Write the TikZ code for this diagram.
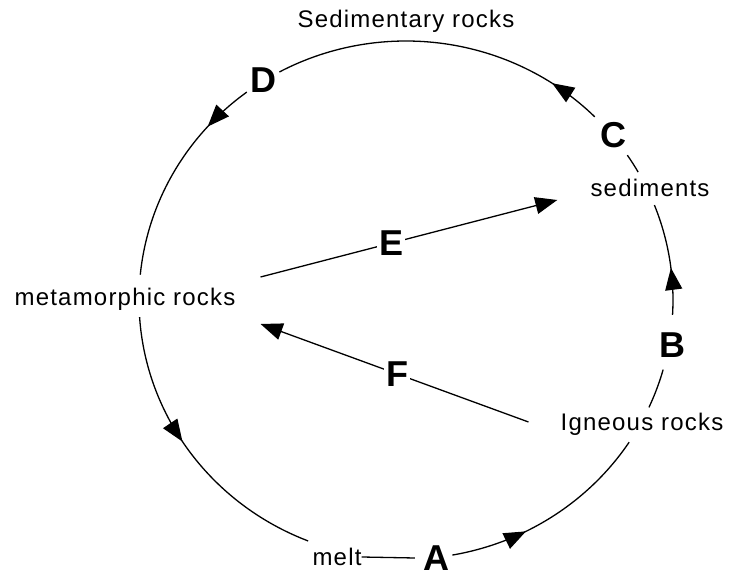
\documentclass[tikz,border=0pt]{standalone}
\usepackage{fontspec}
\setmainfont{Liberation Sans}
\newfontfamily\lblfont[LetterSpace=5]{Liberation Sans}
\usetikzlibrary{arrows.meta,decorations.markings}

\begin{document}
\begin{tikzpicture}[
  x=1pt, y=1pt,
  lbl/.style={inner sep=0pt, font=\lblfont\fontsize{24}{28}\selectfont},
  letter/.style={inner sep=2pt, font=\bfseries\fontsize{36}{40}\selectfont},
  link/.style={line width=1.3pt},
  arrow/.style={link, -{Triangle[length=22pt,width=17pt]}},
  cyc/.style={link, x radius=267, y radius=259},
  mid arrow/.style={postaction={decorate}, decoration={markings, mark=at position #1 with {\arrow{Triangle[length=22pt,width=17pt]}}}}
]
\useasboundingbox (-406,-277) rectangle (333,300);

% labels round the cycle
\node[lbl] (sedrocks) at (0,279) {Sedimentary rocks};
\node[lbl] (sed) at (244,112) {sediments};
\node[lbl] (ign) at (236,-124) {Igneous rocks};
\node[lbl] (melt) at (-69,-257) {melt};
\node[lbl] (meta) at (-281,1) {metamorphic rocks};

% process letters
\node[letter] (D) at (-142,220) {D};
\node[letter] (C) at (207,165) {C};
\node[letter] (B) at (266,-45) {B};
\node[letter] (A) at (30,-258) {A};

% the cycle
\draw[cyc, mid arrow=0.16] (45:267 and 259) arc[start angle=45, end angle=118.3];
\draw[cyc, mid arrow=0.24] (126.6:267 and 259) arc[start angle=126.6, end angle=174.4];
\draw[cyc, mid arrow=0.45] (183.8:267 and 259) arc[start angle=183.8, end angle=248.5];
\draw[link] (melt.east) -- ([xshift=-6pt]A.west);
\draw[cyc, mid arrow=0.36] (280:267 and 259) arc[start angle=280, end angle=326.7];
\draw[cyc] (335.5:267 and 259) arc[start angle=335.5, end angle=344.4];
\draw[cyc, mid arrow=0.42] (-3.3:267 and 259) arc[start angle=-3.3, end angle=21.5];
\draw[cyc] (29.6:267 and 259) arc[start angle=29.6, end angle=34];

% cross links
\draw[arrow] ([xshift=25pt,yshift=22pt]meta.east) -- node[letter, pos=.44, fill=white] (E) {E} ([xshift=-33pt,yshift=-12pt]sed.west);
\draw[arrow] ([xshift=-32pt,yshift=2pt]ign.west) -- node[letter, pos=.49, fill=white] (F) {F} ([xshift=25pt,yshift=-25pt]meta.east);
\end{tikzpicture}
\end{document}
